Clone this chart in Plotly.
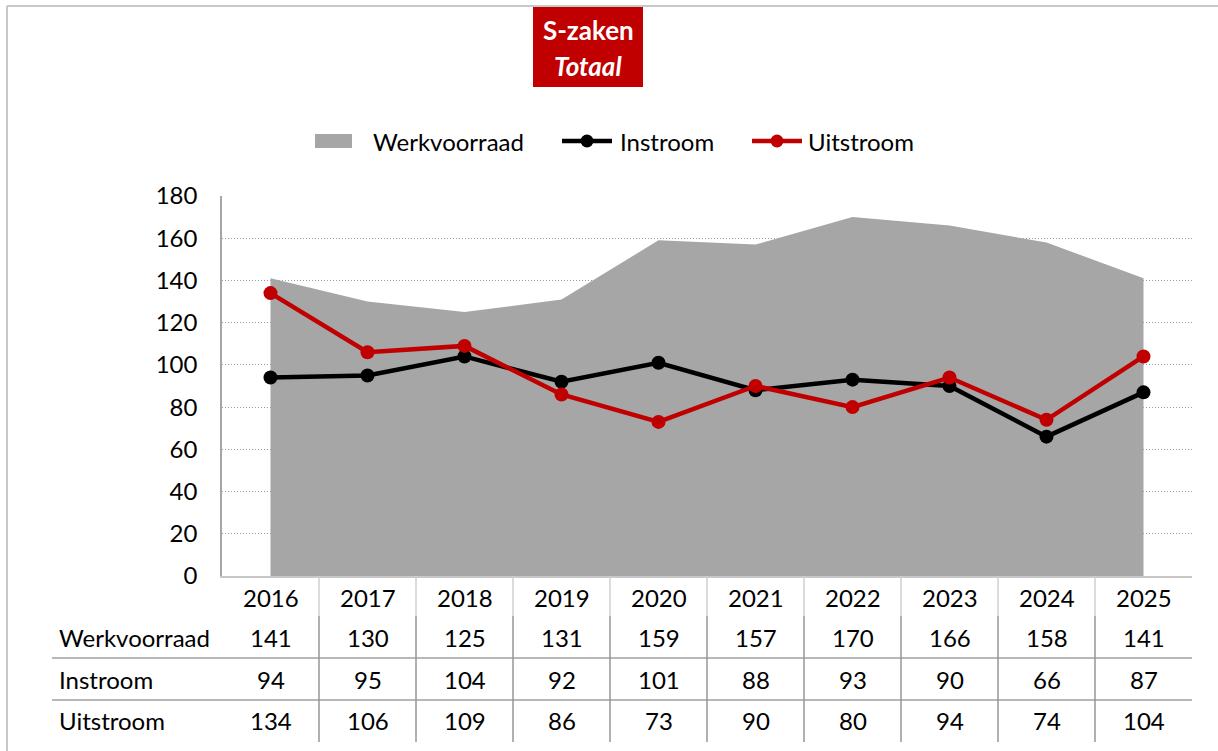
import plotly.graph_objects as go

years = ["2016", "2017", "2018", "2019", "2020", "2021", "2022", "2023", "2024", "2025"]
werkvoorraad = [141, 130, 125, 131, 159, 157, 170, 166, 158, 141]
instroom = [94, 95, 104, 92, 101, 88, 93, 90, 66, 87]
uitstroom = [134, 106, 109, 86, 73, 90, 80, 94, 74, 104]
row_names = ["Werkvoorraad", "Instroom", "Uitstroom"]
y_ticks = [0, 20, 40, 60, 80, 100, 120, 140, 160, 180]

W, H = 1218, 751
L, R, T, B = 222, 1192, 196, 576
FONT = "Lato"
FS = 24
RED = "#C00000"
GREY = "#A6A6A6"


def xp(px):
    return (px - L) / (R - L)


def yp(py):
    return (B - py) / (B - T)


xs = list(range(len(years)))

fig = go.Figure()
fig.add_trace(go.Scatter(x=xs, y=werkvoorraad, name=row_names[0], mode="lines",
                         line=dict(width=0, color=GREY), fill="tozeroy", fillcolor=GREY))
fig.add_trace(go.Scatter(x=xs, y=instroom, name=row_names[1], mode="lines+markers",
                         line=dict(width=4.5, color="black"), marker=dict(size=14, color="black")))
fig.add_trace(go.Scatter(x=xs, y=uitstroom, name=row_names[2], mode="lines+markers",
                         line=dict(width=4.5, color=RED), marker=dict(size=14, color=RED)))

shapes = []
annotations = []

# outer border
shapes.append(dict(type="line", xref="paper", yref="paper", x0=xp(7), x1=xp(7), y0=yp(6), y1=yp(751),
                   line=dict(color="#C8C8C8", width=2)))
shapes.append(dict(type="line", xref="paper", yref="paper", x0=xp(7), x1=xp(1218), y0=yp(6), y1=yp(6),
                   line=dict(color="#C8C8C8", width=2)))

# data table grid
for py in (658, 700):
    shapes.append(dict(type="line", xref="paper", yref="paper", x0=xp(52), x1=xp(R), y0=yp(py), y1=yp(py),
                       line=dict(color="#A0A0A0", width=1.5)))
for i in range(len(years) - 1):
    shapes.append(dict(type="line", xref="x", yref="paper", x0=i + 0.5, x1=i + 0.5, y0=yp(576), y1=yp(616),
                       line=dict(color="#CFCFCF", width=1.5)))
    shapes.append(dict(type="line", xref="x", yref="paper", x0=i + 0.5, x1=i + 0.5, y0=yp(616), y1=yp(742),
                       line=dict(color="#969696", width=1.5)))

tfont = dict(family=FONT, size=FS, color="black")
row_y = [637, 679, 720]
for i, yr in enumerate(years):
    annotations.append(dict(x=i, y=yp(597), xref="x", yref="paper", text=yr, showarrow=False,
                            font=tfont, xanchor="center", yanchor="middle"))
for r, (name, vals) in enumerate(zip(row_names, [werkvoorraad, instroom, uitstroom])):
    annotations.append(dict(x=xp(57), y=yp(row_y[r]), xref="paper", yref="paper", text=name,
                            showarrow=False, font=tfont, xanchor="left", yanchor="middle"))
    for i, v in enumerate(vals):
        annotations.append(dict(x=i, y=yp(row_y[r]), xref="x", yref="paper", text=str(v), showarrow=False,
                                font=tfont, xanchor="center", yanchor="middle"))

# title box
shapes.append(dict(type="rect", xref="paper", yref="paper", x0=xp(533), x1=xp(643), y0=yp(7), y1=yp(87),
                   fillcolor=RED, line=dict(width=0)))
annotations.append(dict(x=xp(588), y=yp(30), xref="paper", yref="paper", text="<b>S-zaken</b>",
                        showarrow=False, font=dict(family=FONT, size=26, color="white"),
                        xanchor="center", yanchor="middle"))
annotations.append(dict(x=xp(588), y=yp(66), xref="paper", yref="paper", text="<b><i>Totaal</i></b>",
                        showarrow=False, font=dict(family=FONT, size=26, color="white"),
                        xanchor="center", yanchor="middle"))

# legend (drawn manually to match symbol sizes)
ly = yp(141)
shapes.append(dict(type="rect", xref="paper", yref="paper", x0=xp(315), x1=xp(352), y0=yp(134), y1=yp(148),
                   fillcolor=GREY, line=dict(width=0)))
annotations.append(dict(x=xp(371), y=ly, xref="paper", yref="paper", text=row_names[0], showarrow=False,
                        font=tfont, xanchor="left", yanchor="middle"))
for (x0, x1, tx, col, name) in [(562, 612, 618, "black", row_names[1]), (752, 802, 806, RED, row_names[2])]:
    shapes.append(dict(type="line", xref="paper", yref="paper", x0=xp(x0), x1=xp(x1), y0=ly, y1=ly,
                       line=dict(color=col, width=4.5)))
    cx = (x0 + x1) / 2
    shapes.append(dict(type="circle", xref="paper", yref="paper", x0=xp(cx - 6.5), x1=xp(cx + 6.5),
                       y0=yp(141 + 6.5), y1=yp(141 - 6.5), fillcolor=col, line=dict(width=0)))
    annotations.append(dict(x=xp(tx), y=ly, xref="paper", yref="paper", text=name, showarrow=False,
                            font=tfont, xanchor="left", yanchor="middle"))

fig.update_layout(
    width=W, height=H,
    margin=dict(l=L, r=W - R, t=T, b=H - B),
    paper_bgcolor="white", plot_bgcolor="white",
    font=dict(family=FONT, size=FS, color="black"),
    showlegend=False,
    shapes=shapes, annotations=annotations,
    xaxis=dict(range=[-0.5, len(years) - 0.5], showgrid=False, zeroline=False, showticklabels=False,
               showline=True, linecolor="#C8C8C8", linewidth=1.5, fixedrange=True),
    yaxis=dict(range=[0, 180], tickvals=y_ticks, showgrid=True, gridcolor="#9A9A9A", griddash="1px,2px",
               gridwidth=1, zeroline=False, showline=True, linecolor="#A6A6A6", linewidth=1.5,
               ticks="", ticklabelstandoff=18, tickfont=dict(family=FONT, size=FS, color="black")),
)

fig.write_html("out.html", config={"displayModeBar": False},
               post_script="document.body.style.margin='0';document.body.style.padding='0';")
